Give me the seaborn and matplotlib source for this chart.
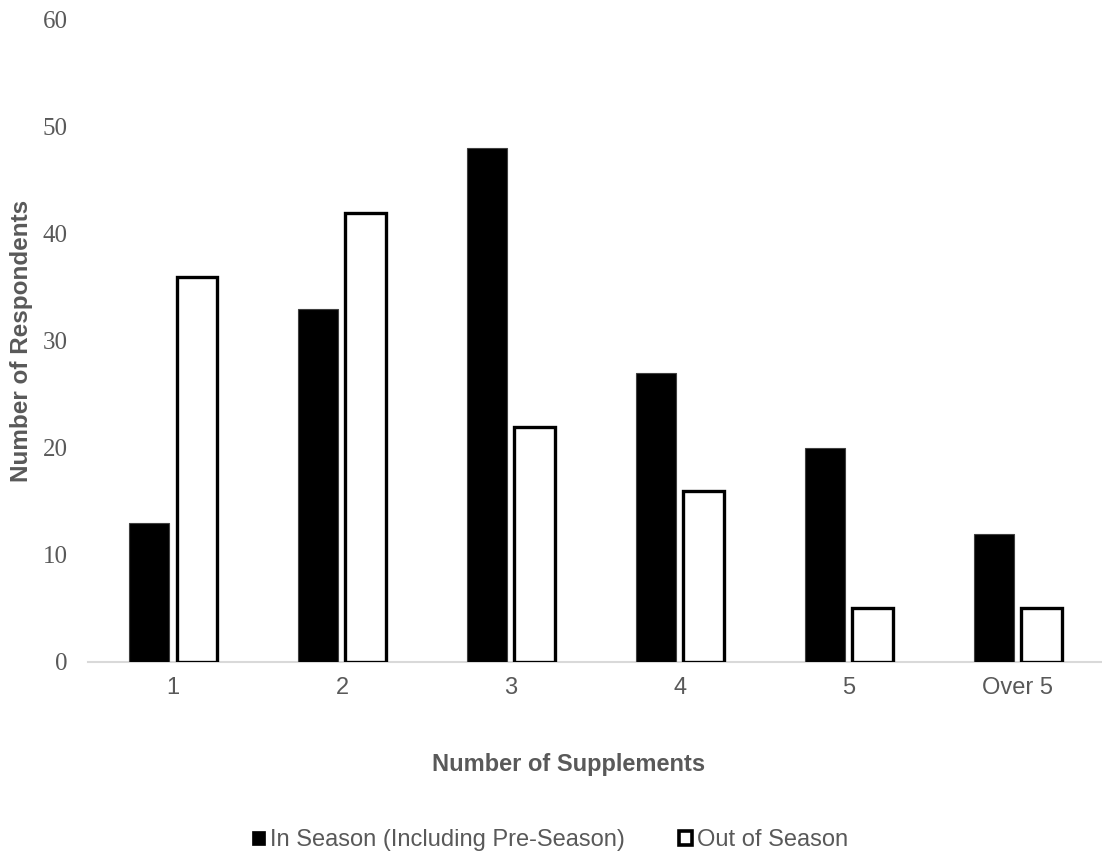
import matplotlib
matplotlib.use("Agg")
import matplotlib.pyplot as plt
from matplotlib.patches import Patch
import seaborn as sns
import pandas as pd

categories = ["1", "2", "3", "4", "5", "Over 5"]
in_season = [13, 33, 48, 27, 20, 12]
out_season = [36, 42, 22, 16, 5, 5]
series_names = ["In Season (Including Pre-Season)", "Out of Season"]
y_ticks = [0, 10, 20, 30, 40, 50, 60]

df = pd.DataFrame({
    "Supplements": categories * 2,
    "Series": [series_names[0]] * len(categories) + [series_names[1]] * len(categories),
    "Respondents": in_season + out_season,
})

sns.set_theme(style="white")
plt.rcParams["font.family"] = ["Liberation Sans", "DejaVu Sans"]

grey = "#595959"
fig = plt.figure(figsize=(11.02, 8.65), dpi=100)
ax = fig.add_axes([0.0803, 0.2347, 0.920, 0.7423])

sns.barplot(data=df, x="Supplements", y="Respondents", hue="Series",
            order=categories, hue_order=series_names,
            palette=["black", "white"], width=0.56, gap=0.15,
            legend=False, ax=ax, zorder=3)

n = len(categories)
for i, patch in enumerate(ax.patches):
    if i < n:
        patch.set_edgecolor("#404040")
        patch.set_linewidth(0.8)
    else:
        patch.set_edgecolor("black")
        patch.set_linewidth(2.4)
        patch.set_joinstyle("miter")

ax.set_ylim(0, 60)
ax.set_xlim(-0.5, n - 0.5)
ax.set_yticks(y_ticks)
ax.set_yticklabels([str(t) for t in y_ticks], family="Liberation Serif",
                   fontsize=18, color=grey)
ax.tick_params(axis="x", labelsize=17, colors=grey, pad=11, length=0)
ax.tick_params(axis="y", length=0, pad=15)
for lbl in ax.get_xticklabels():
    lbl.set_color(grey)

for side in ["top", "right", "left"]:
    ax.spines[side].set_visible(False)
ax.spines["bottom"].set_color("#d9d9d9")
ax.spines["bottom"].set_linewidth(1.5)
ax.spines["bottom"].set_zorder(2)
ax.grid(False)

ax.set_xlabel("")
ax.set_ylabel("Number of Respondents", fontsize=17.5, fontweight="bold",
              color=grey)
ax.yaxis.set_label_coords(-0.055, 0.5)
fig.text(569 / 1102, 1 - 765 / 865, "Number of Supplements", ha="center",
         va="center", fontsize=17, fontweight="bold", color=grey)

handles = [Patch(facecolor="black", edgecolor="black", linewidth=0.5),
           Patch(facecolor="white", edgecolor="black", linewidth=2.6)]
fig.legend(handles, series_names, loc="center", bbox_to_anchor=(0.499, 1 - 840 / 865),
           ncol=2, frameon=False, fontsize=17, labelcolor=grey,
           handlelength=0.55, handleheight=0.55, handletextpad=0.2,
           columnspacing=2.3)

fig.savefig("out.png", dpi=100)
